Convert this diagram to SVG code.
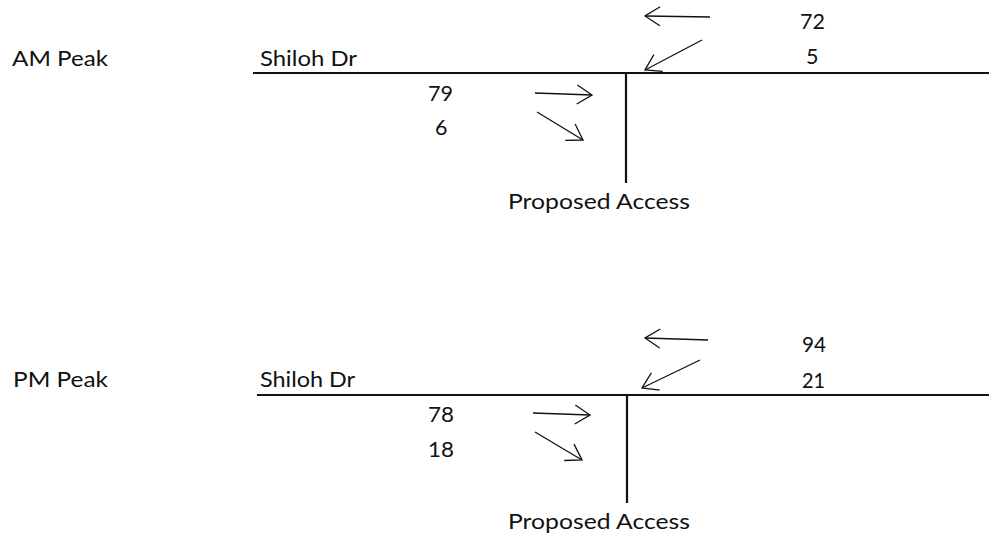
<svg xmlns="http://www.w3.org/2000/svg" width="989" height="540" viewBox="0 0 989 540">
<defs>
<style>
text{font-family:Lato,"Open Sans","Liberation Sans",sans-serif;font-size:21.5px;fill:#111}
.road{stroke:#111;stroke-width:2.2;fill:none}
.arr{stroke:#111;stroke-width:1.3;fill:none;marker-end:url(#head)}
</style>
<marker id="head" viewBox="0 0 17 22" refX="16" refY="11" markerWidth="17" markerHeight="22" markerUnits="userSpaceOnUse" orient="auto">
<path d="M1,1.5 L16,11 L1,20.5" fill="none" stroke="#111" stroke-width="1.3"/>
</marker>
</defs>
<rect width="989" height="540" fill="#fff"/>

<g id="am-label"><text x="12" y="66" textLength="96" lengthAdjust="spacingAndGlyphs">AM Peak</text></g>
<g id="am-road">
<line class="road" x1="253" y1="73" x2="989" y2="73"/>
<text x="260" y="66" textLength="97" lengthAdjust="spacingAndGlyphs">Shiloh Dr</text>
</g>
<g id="am-access">
<line class="road" x1="626" y1="73" x2="626" y2="183"/>
<text x="508" y="209" textLength="182" lengthAdjust="spacingAndGlyphs">Proposed Access</text>
</g>
<g id="am-volumes">
<text x="800" y="29" textLength="25" lengthAdjust="spacingAndGlyphs">72</text>
<text x="806" y="64">5</text>
<text x="428" y="101" textLength="25" lengthAdjust="spacingAndGlyphs">79</text>
<text x="435" y="135">6</text>
</g>

<g id="pm-label"><text x="13" y="387" textLength="95" lengthAdjust="spacingAndGlyphs">PM Peak</text></g>
<g id="pm-road">
<line class="road" x1="257" y1="395" x2="989" y2="395"/>
<text x="260" y="387" textLength="95" lengthAdjust="spacingAndGlyphs">Shiloh Dr</text>
</g>
<g id="pm-access">
<line class="road" x1="627" y1="395" x2="627" y2="503"/>
<text x="508" y="529" textLength="182" lengthAdjust="spacingAndGlyphs">Proposed Access</text>
</g>
<g id="pm-volumes">
<text x="802" y="352" textLength="24" lengthAdjust="spacingAndGlyphs">94</text>
<text x="802" y="388" textLength="23" lengthAdjust="spacingAndGlyphs">21</text>
<text x="428" y="422" textLength="26" lengthAdjust="spacingAndGlyphs">78</text>
<text x="428" y="457" textLength="26" lengthAdjust="spacingAndGlyphs">18</text>
</g>

<g id="connectors">
<line class="arr" x1="710" y1="17" x2="645" y2="16"/>
<line class="arr" x1="702" y1="40" x2="645" y2="70"/>
<line class="arr" x1="535" y1="93" x2="592" y2="95"/>
<line class="arr" x1="537" y1="112" x2="583" y2="140"/>
<line class="arr" x1="708" y1="340" x2="645" y2="338"/>
<line class="arr" x1="700" y1="360" x2="642" y2="388"/>
<line class="arr" x1="533" y1="413" x2="590" y2="415"/>
<line class="arr" x1="535" y1="432" x2="582" y2="460"/>
</g>
</svg>
